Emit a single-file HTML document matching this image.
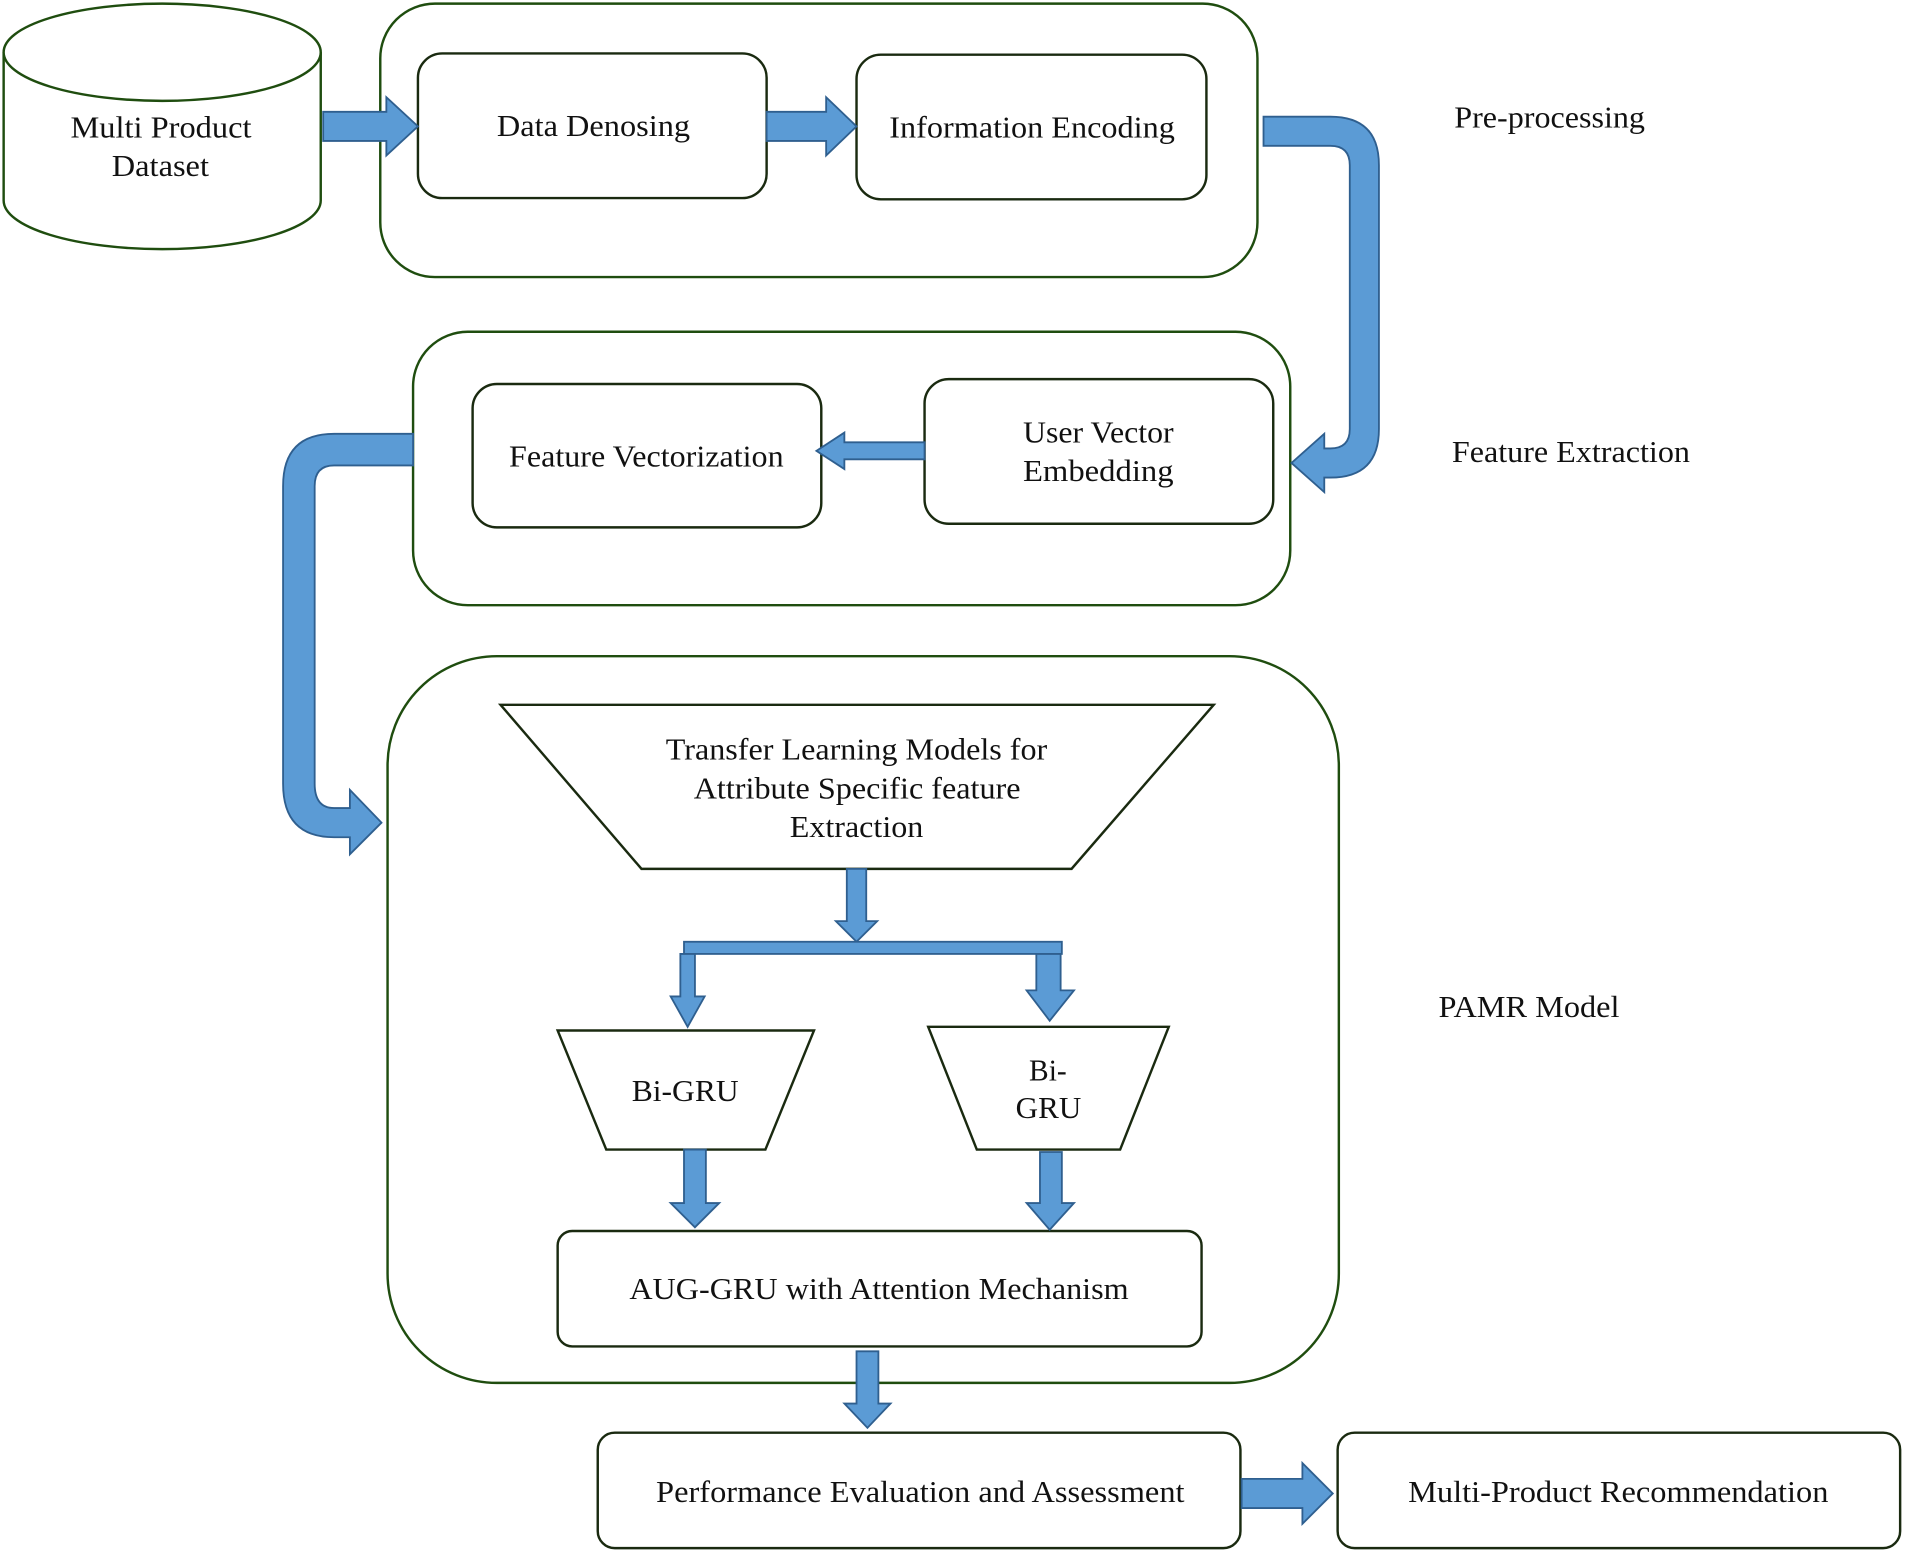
<!DOCTYPE html>
<html><head><style>html,body{margin:0;padding:0;background:#fff}svg{display:block}</style></head>
<body>
<svg width="1905" height="1553" viewBox="0 0 1568 1278" preserveAspectRatio="none" xmlns="http://www.w3.org/2000/svg" font-family="'Liberation Serif', serif" font-size="25" fill="none">
<g stroke="#1f4d0f" stroke-width="2" fill="#fff">
<path d="M3,43 L3,165 A130.5,40 0 0 0 264,165 L264,43"/>
<ellipse cx="133.5" cy="43" rx="130.5" ry="40"/>
<rect x="313" y="3" width="722" height="225" rx="45"/>
<rect x="340" y="273" width="722" height="225" rx="45"/>
<rect x="319" y="540" width="783" height="598" rx="90"/>
</g>
<g stroke="#1a2a10" stroke-width="2" fill="#fff">
<rect x="344" y="44" width="287" height="119" rx="20"/>
<rect x="705" y="45" width="288" height="119" rx="20"/>
<rect x="389" y="316" width="287" height="118" rx="20"/>
<rect x="761" y="312" width="287" height="119" rx="20"/>
<polygon points="412,580 999,580 882,715 528,715"/>
<polygon points="459,848 670,848 630,946 499,946"/>
<polygon points="764,845 962,845 922,946 804,946"/>
<rect x="459" y="1013" width="530" height="95" rx="12"/>
<rect x="492" y="1179" width="529" height="95" rx="14"/>
<rect x="1101" y="1179" width="463" height="95" rx="14"/>
</g>
<g fill="#5b9bd5" stroke="#2f5f8f" stroke-width="1.5">
<polygon points="266,92 318,92 318,80 344,104 318,128 318,116 266,116"/>
<polygon points="631,92 680,92 680,80 705,104 680,128 680,116 631,116"/>
<path d="M1040,96 L1095,96 Q1135,96 1135,136 L1135,353 Q1135,393 1095,393 L1090,393 L1090,405 L1063,381 L1090,357 L1090,369 L1095,369 Q1111,369 1111,353 L1111,136 Q1111,120 1095,120 L1040,120 Z"/>
<polygon points="761,364 695,364 695,356 672,371 695,386 695,378 761,378"/>
<path d="M340,357 L275,357 Q233,357 233,400 L233,645 Q233,689 275,689 L288,689 L288,703 L314,677 L288,650 L288,665 L275,665 Q259,665 259,645 L259,400 Q259,383 275,383 L340,383 Z"/>
<polygon points="697,715 713,715 713,758 722,758 705,775 688,758 697,758"/>
<rect x="563" y="775" width="311" height="10"/>
<polygon points="560,785 572,785 572,820 580,820 566,845 552,820 560,820"/>
<polygon points="853,785 873,785 873,815 884,815 864,840 845,815 853,815"/>
<polygon points="563,946 581,946 581,990 592,990 572,1010 552,990 563,990"/>
<polygon points="856,948 874,948 874,990 884,990 864,1012 845,990 856,990"/>
<polygon points="705,1112 723,1112 723,1155 733,1155 714,1175 695,1155 705,1155"/>
<polygon points="1022,1217 1072,1217 1072,1204 1097,1229 1072,1254 1072,1241 1022,1241"/>
</g>
<g fill="#111" lengthAdjust="spacingAndGlyphs">
<text x="58" y="113" textLength="149" lengthAdjust="spacingAndGlyphs">Multi Product</text>
<text x="92" y="145" textLength="80" lengthAdjust="spacingAndGlyphs">Dataset</text>
<text x="409" y="112" textLength="159" lengthAdjust="spacingAndGlyphs">Data Denosing</text>
<text x="732" y="113" textLength="235" lengthAdjust="spacingAndGlyphs">Information Encoding</text>
<text x="419" y="384" textLength="226" lengthAdjust="spacingAndGlyphs">Feature Vectorization</text>
<text x="842" y="364" textLength="124" lengthAdjust="spacingAndGlyphs">User Vector</text>
<text x="842" y="396" textLength="124" lengthAdjust="spacingAndGlyphs">Embedding</text>
<text x="548" y="625" textLength="314" lengthAdjust="spacingAndGlyphs">Transfer Learning Models for</text>
<text x="571" y="657" textLength="269" lengthAdjust="spacingAndGlyphs">Attribute Specific feature</text>
<text x="650" y="689" textLength="110" lengthAdjust="spacingAndGlyphs">Extraction</text>
<text x="520" y="906" textLength="88" lengthAdjust="spacingAndGlyphs">Bi-GRU</text>
<text x="847" y="889" textLength="31" lengthAdjust="spacingAndGlyphs">Bi-</text>
<text x="836" y="920" textLength="54" lengthAdjust="spacingAndGlyphs">GRU</text>
<text x="518" y="1069" textLength="411" lengthAdjust="spacingAndGlyphs">AUG-GRU with Attention Mechanism</text>
<text x="540" y="1236" textLength="435" lengthAdjust="spacingAndGlyphs">Performance Evaluation and Assessment</text>
<text x="1159" y="1236" textLength="346" lengthAdjust="spacingAndGlyphs">Multi-Product Recommendation</text>
<text x="1197" y="105" textLength="157" lengthAdjust="spacingAndGlyphs">Pre-processing</text>
<text x="1195" y="380" textLength="196" lengthAdjust="spacingAndGlyphs">Feature Extraction</text>
<text x="1184" y="837" textLength="149" lengthAdjust="spacingAndGlyphs">PAMR Model</text>
</g>
</svg>
</body></html>
